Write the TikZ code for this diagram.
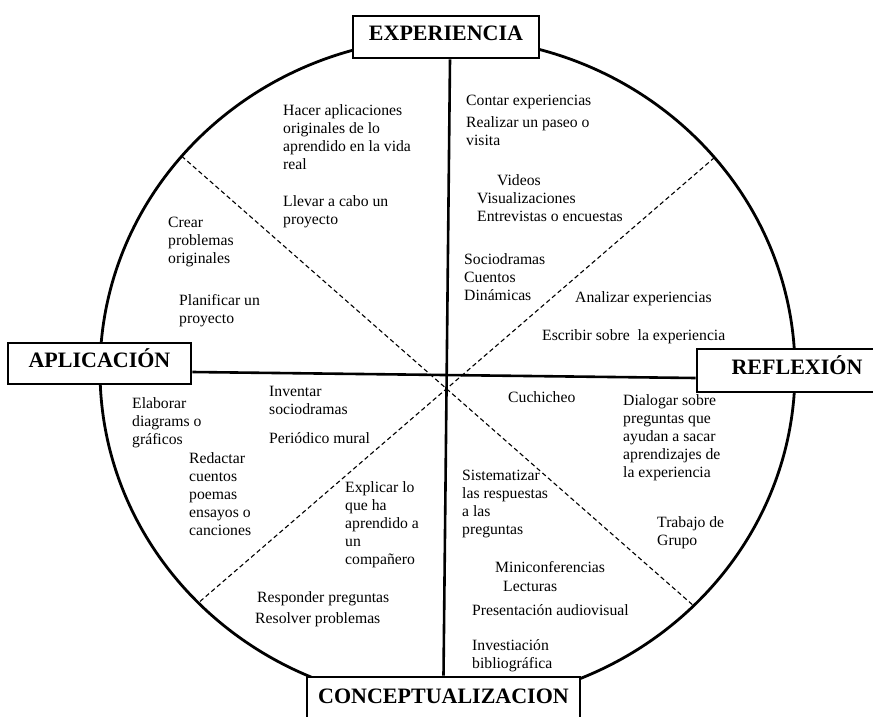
\documentclass[tikz,border=0pt]{standalone}
\usepackage{fontspec}
\setmainfont{Liberation Serif}

\begin{document}
\begin{tikzpicture}[
  x=1pt, y=-1pt,
  stage/.style={draw, line width=2.6pt, fill=white, inner sep=0pt, text height=15pt, text depth=7pt, font=\fontsize{22}{26}\selectfont\bfseries},
  item/.style={anchor=north west, yshift=10.5pt, inner sep=0pt, align=left, font=\fontsize{15.7}{18}\selectfont},
  rim/.style={line width=2.8pt},
  axis/.style={line width=2.6pt},
  split/.style={line width=1.1pt, dash pattern=on 4.5pt off 3pt}
]
\useasboundingbox[fill=white] (0,0) rectangle (873,717);

% the cycle
\coordinate (hub) at (447.5,370.7);
\draw[rim] (hub) ellipse [x radius=347.5pt, y radius=333pt];
\coordinate (rimNW) at ([shift={(139.9:347.5pt and 333pt)}]hub);
\coordinate (rimNE) at ([shift={(39.8:347.5pt and 333pt)}]hub);
\coordinate (rimSW) at ([shift={(224.2:347.5pt and 333pt)}]hub);
\coordinate (rimSE) at ([shift={(315.1:347.5pt and 333pt)}]hub);
\draw[split] (rimNW) -- (rimSE);
\draw[split] (rimNE) -- (rimSW);

% the four stages
\node[stage, minimum width=186pt, minimum height=42pt] (exp) at (446,37) {EXPERIENCIA};
\node[stage, minimum width=183pt, minimum height=41pt] (aplic) at (99.5,363.5) {APLICACIÓN};
\node[stage, minimum width=200pt, minimum height=43pt] (reflex) at (797,370.5) {REFLEXIÓN};
\node[stage, minimum width=273pt, minimum height=44pt] (concept) at (443.5,699) {CONCEPTUALIZACION};
\draw[axis] ([xshift=4pt]exp.south) -- (concept.north);
\draw[axis] ([yshift=-8.5pt]aplic.east) -- ([yshift=-7.5pt]reflex.west);

% experiencia / aplicacion side
\node[item] (hacer) at (283,115) {Hacer aplicaciones\\originales de lo\\aprendido en la vida\\real};
\node[item] (llevar) at (283,206) {Llevar a cabo un\\proyecto};
\node[item] (crear) at (168,227) {Crear\\problemas\\originales};
\node[item] (planif) at (179,305) {Planificar un\\proyecto};

% experiencia / reflexion side
\node[item] (contar) at (466,105) {Contar experiencias};
\node[item] (realizar) at (466,127) {Realizar un paseo o\\visita};
\node[item] (videos) at (497,185) {Videos};
\node[item] (visual) at (477,203) {Visualizaciones\\Entrevistas o encuestas};
\node[item] (socio) at (464,264) {Sociodramas\\Cuentos\\Dinámicas};
\node[item] (analizar) at (575,302) {Analizar experiencias};
\node[item] (escribir) at (542,340) {Escribir sobre~ la experiencia};

% aplicacion / conceptualizacion side
\node[item] (elaborar) at (132,408) {Elaborar\\diagrams o\\gráficos};
\node[item] (inventar) at (269,397) {Inventar\\sociodramas};
\node[item] (periodico) at (269,443) {Periódico mural};
\node[item] (redactar) at (189,463) {Redactar\\cuentos\\poemas\\ensayos o\\canciones};
\node[item] (explicar) at (345,492) {Explicar lo\\que ha\\aprendido a\\un\\compañero};
\node[item] (responder) at (257,602) {Responder preguntas};
\node[item] (resolver) at (255,623) {Resolver problemas};

% reflexion / conceptualizacion side
\node[item] (cuchicheo) at (508,402) {Cuchicheo};
\node[item] (dialogar) at (623,405) {Dialogar sobre\\preguntas que\\ayudan a sacar\\aprendizajes de\\la experiencia};
\node[item] (sistem) at (462,480) {Sistematizar\\las respuestas\\a las\\preguntas};
\node[item] (trabajo) at (657,527) {Trabajo de\\Grupo};
\node[item] (mini) at (495,572) {Miniconferencias};
\node[item] (lecturas) at (503,592) {Lecturas};
\node[item] (present) at (472,615) {Presentación audiovisual};
\node[item] (investig) at (472,650) {Investiación\\bibliográfica};
\end{tikzpicture}
\end{document}
